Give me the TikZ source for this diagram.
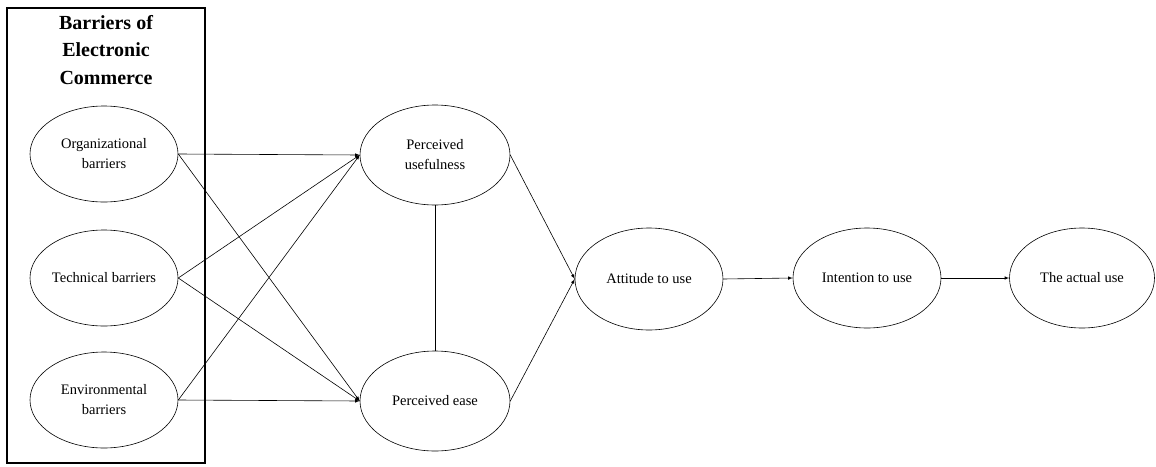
\documentclass[tikz,border=0pt]{standalone}
\usepackage{fontspec}
\setmainfont{Liberation Serif}
\usetikzlibrary{positioning,shapes.geometric}

\begin{document}
\begin{tikzpicture}[
  x=1pt,y=-1pt,line width=0.6pt,
  factor/.style={draw,ellipse,inner sep=0pt,minimum width=148pt,minimum height=96pt,
    align=center,font=\fontsize{14.5}{20}\selectfont},
  group_box/.style={draw,line width=1.1pt,minimum width=198pt,minimum height=455pt},
  link/.style={-latex}
  ]
  \useasboundingbox (0,0) rectangle (1156,466);

  \node[group_box] (box) at (106,235.5) {};
  \node[align=center,inner sep=0pt,font=\fontsize{20}{27.5}\selectfont\bfseries,anchor=north] (title)
    at (106,15) {Barriers of\\Electronic\\Commerce};

  \node[factor] (org) at (104,154) {Organizational\\barriers};
  \node[factor] (tech) at (104,278) {Technical barriers};
  \node[factor] (env) at (104,400) {Environmental\\barriers};

  \node[factor,minimum width=150pt,minimum height=100pt] (pu) at (435,155) {Perceived\\usefulness};
  \node[factor,minimum width=150pt,minimum height=100pt] (pe) at (435,401) {Perceived ease};

  \node[factor,minimum height=102pt] (att) at (649,279) {Attitude to use};
  \node[factor,minimum height=100pt] (int) at (867,278) {Intention to use};
  \node[factor,minimum width=145pt,minimum height=100pt] (act) at (1082,278) {The actual use};

  \draw[link] (org.east) -- (pu.west);
  \draw[link] (org.east) -- (pe.west);
  \draw[link] (tech.east) -- (pu.west);
  \draw[link] (tech.east) -- (pe.west);
  \draw[link] (env.east) -- (pu.west);
  \draw[link] (env.east) -- (pe.west);

  \draw (pu.south) -- (pe.north);

  \draw[link] (pu.east) -- (att.west);
  \draw[link] (pe.east) -- (att.west);
  \draw[link] (att.east) -- (int.west);
  \draw[link] (int.east) -- (act.west);
\end{tikzpicture}
\end{document}
